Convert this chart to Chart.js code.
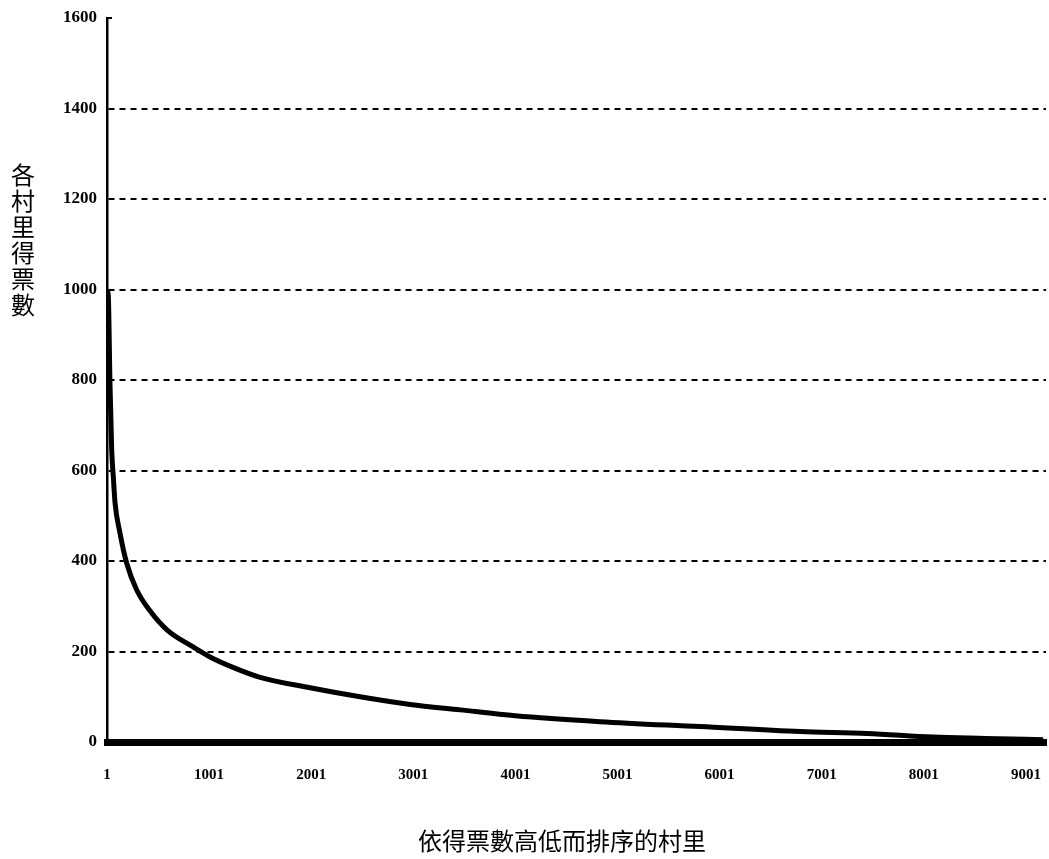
<!DOCTYPE html>
<html>
<head>
<meta charset="utf-8">
<script src="https://cdn.jsdelivr.net/npm/chart.js@4/dist/chart.umd.min.js"></script>
<style>
  html, body { margin: 0; padding: 0; background: #fff; }
  #wrap { width: 1049px; height: 859px; position: relative; }
</style>
</head>
<body>
<div id="wrap"><canvas id="c" width="1049" height="859"></canvas></div>
<script>
// village rank (sorted by votes, high to low)
const rank  = [1, 14, 30, 47, 63, 80, 128, 194, 292, 422, 588, 845, 1010, 1235, 1500, 1990, 2480, 2970, 3460, 4000, 4830, 5810, 6790, 7445, 8090, 8600, 9170];
// votes received in each village
const votes = [1000, 984, 793, 645, 586, 528, 462, 395, 336, 290, 248, 210, 188, 165, 143, 120, 100, 83, 71, 58, 45, 34, 23, 19, 11, 8, 5];
// x-axis tick labels
const xTicks = [1, 1001, 2001, 3001, 4001, 5001, 6001, 7001, 8001, 9001];
// y-axis range
const yMin = 0, yMax = 1600, yStep = 200;
const xMin = 1, xMax = 9198;

const yTitle = '各村里得票數';
const xTitle = '依得票數高低而排序的村里';

const titlePlugin = {
  id: 'titles',
  afterDraw(chart) {
    const ctx = chart.ctx;
    ctx.save();
    ctx.fillStyle = '#000';
    ctx.font = '24px "Noto Sans CJK TC", "Noto Sans CJK SC", sans-serif';
    ctx.textAlign = 'center';
    ctx.textBaseline = 'middle';
    const chars = Array.from(yTitle);
    chars.forEach((ch, i) => ctx.fillText(ch, 23, 175 + i * 26));
    ctx.fillText(xTitle, 562, 841);
    // small tick at the top of the value axis
    const ys = chart.scales.y;
    const top = ys.getPixelForValue(yMax);
    ctx.strokeStyle = '#000';
    ctx.lineWidth = 2;
    ctx.beginPath();
    ctx.moveTo(ys.right - 1, top);
    ctx.lineTo(ys.right + 5, top);
    ctx.stroke();
    ctx.restore();
  }
};

new Chart(document.getElementById('c'), {
  type: 'line',
  data: {
    datasets: [{
      data: rank.map((r, i) => ({ x: r, y: votes[i] })),
      borderColor: '#000',
      borderWidth: 5,
      pointRadius: 0,
      fill: false,
      cubicInterpolationMode: 'monotone'
    }]
  },
  options: {
    responsive: false,
    animation: false,
    devicePixelRatio: 1,
    layout: { padding: { left: 0, top: 18, right: 3, bottom: 0 } },
    plugins: { legend: { display: false }, tooltip: { enabled: false } },
    scales: {
      x: {
        type: 'linear',
        min: xMin,
        max: xMax,
        afterBuildTicks(scale) { scale.ticks = xTicks.map(v => ({ value: v })); },
        afterFit(scale) { scale.height = 117; scale.paddingLeft = 0; scale.paddingRight = 0; },
        grid: { display: false, drawTicks: false },
        border: { display: true, color: '#000', width: 7 },
        ticks: {
          color: '#000',
          padding: 24,
          maxRotation: 0,
          autoSkip: false,
          font: { family: '"Liberation Serif", serif', weight: 'bold', size: 15 },
          callback: v => String(v)
        }
      },
      y: {
        min: yMin,
        max: yMax,
        afterFit(scale) { scale.width = 107; scale.paddingTop = 0; scale.paddingBottom = 0; },
        grid: {
          drawTicks: false,
          lineWidth: 2,
          color: ctx => (ctx.tick && (ctx.tick.value === yMin || ctx.tick.value === yMax)) ? 'rgba(0,0,0,0)' : '#000'
        },
        border: { display: true, color: '#000', width: 2.5, dash: [6, 5] },
        ticks: {
          stepSize: yStep,
          color: '#000',
          padding: 10,
          font: { family: '"Liberation Serif", serif', weight: 'bold', size: 17 },
          callback: v => String(v)
        }
      }
    }
  },
  plugins: [titlePlugin]
});
</script>
</body>
</html>
